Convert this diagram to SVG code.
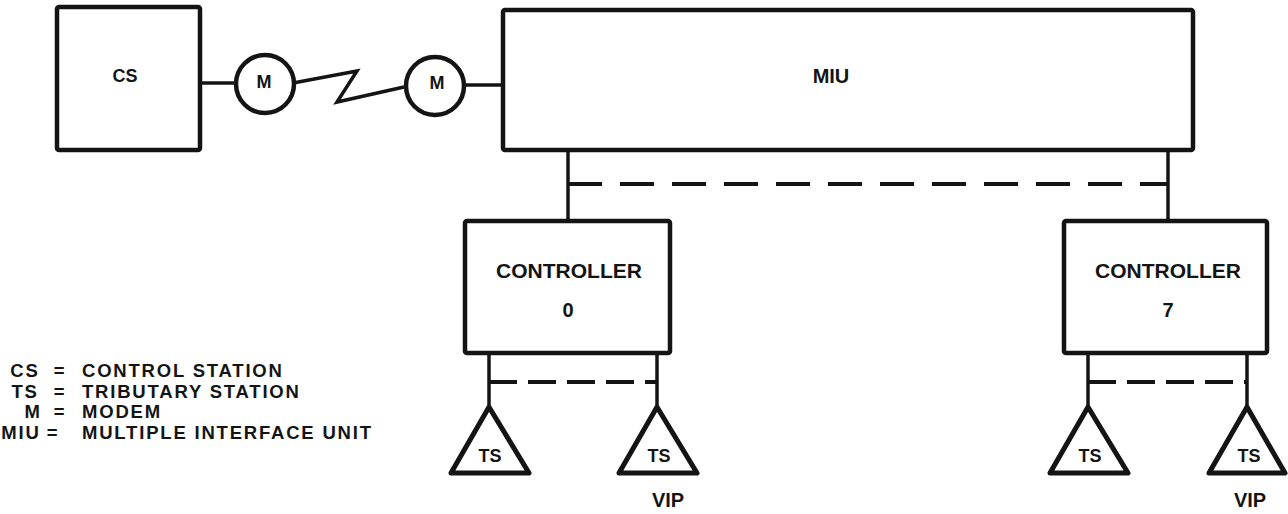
<svg xmlns="http://www.w3.org/2000/svg" width="1288" height="514" viewBox="0 0 1288 514">
<style>
  .box{fill:none;stroke:#141414;stroke-width:4.5;stroke-linejoin:round}
  .tri{fill:none;stroke:#141414;stroke-width:5;stroke-linejoin:round}
  .ln{fill:none;stroke:#141414;stroke-width:3.5}
  .dash{fill:none;stroke:#141414;stroke-width:4;stroke-dasharray:34 18}
  .dash2{fill:none;stroke:#141414;stroke-width:4;stroke-dasharray:28 11}
  text{font-family:"Liberation Sans",Arial,sans-serif;font-weight:bold;fill:#141414}
  .lbl{font-size:20px;text-anchor:middle}
  .ts{font-size:18px;text-anchor:middle}
  .leg{font-size:18.5px;letter-spacing:1.8px}
</style>
<rect width="1288" height="514" fill="#ffffff"/>
<g id="connectors">
  <line class="ln" x1="200" y1="83" x2="236" y2="83"/>
  <polyline class="ln" points="293,83 357,71 337,102 404,87"/>
  <line class="ln" x1="465" y1="85" x2="503" y2="85"/>
  <line class="ln" x1="568" y1="150" x2="568" y2="221"/>
  <line class="ln" x1="1168" y1="150" x2="1168" y2="221"/>
  <line class="dash" x1="568" y1="184" x2="1168" y2="184"/>
  <line class="ln" x1="489" y1="353" x2="489" y2="407"/>
  <line class="ln" x1="657" y1="353" x2="657" y2="407"/>
  <line class="dash2" x1="489" y1="382" x2="657" y2="382"/>
  <line class="ln" x1="1088" y1="353" x2="1088" y2="407"/>
  <line class="ln" x1="1247" y1="353" x2="1247" y2="407"/>
  <line class="dash2" x1="1088" y1="382" x2="1247" y2="382"/>
</g>
<g id="cs">
  <rect class="box" x="57" y="7" width="143" height="143" rx="2"/>
  <text class="lbl" x="125" y="82" style="font-size:18px">CS</text>
</g>
<g id="modem1">
  <circle class="box" cx="265" cy="84" r="29"/>
  <text class="lbl" x="264" y="88" style="font-size:18px">M</text>
</g>
<g id="modem2">
  <circle class="box" cx="435" cy="86" r="29"/>
  <text class="lbl" x="437" y="89" style="font-size:18px">M</text>
</g>
<g id="miu">
  <rect class="box" x="503" y="10" width="690" height="140" rx="2"/>
  <text class="lbl" x="831" y="83">MIU</text>
</g>
<g id="controller0">
  <rect class="box" x="465" y="221" width="205" height="132" rx="2"/>
  <text class="lbl" x="569" y="278" style="font-size:21px">CONTROLLER</text>
  <text class="lbl" x="568" y="317">0</text>
</g>
<g id="controller7">
  <rect class="box" x="1064" y="221" width="203" height="132" rx="2"/>
  <text class="lbl" x="1168" y="278" style="font-size:21px">CONTROLLER</text>
  <text class="lbl" x="1168" y="317">7</text>
</g>
<g id="ts0a">
  <polygon class="tri" points="489,407 529,473 451,473"/>
  <text class="ts" x="490" y="462">TS</text>
</g>
<g id="ts0b">
  <polygon class="tri" points="657,407 697,473 619,473"/>
  <text class="ts" x="659" y="462">TS</text>
  <text class="lbl" x="668" y="507">VIP</text>
</g>
<g id="ts7a">
  <polygon class="tri" points="1088,407 1128,473 1050,473"/>
  <text class="ts" x="1090" y="462">TS</text>
</g>
<g id="ts7b">
  <polygon class="tri" points="1247,407 1285,473 1209,473"/>
  <text class="ts" x="1249" y="462">TS</text>
  <text class="lbl" x="1250" y="507">VIP</text>
</g>
<g id="legend" class="leg">
  <text x="25" y="377" text-anchor="middle">CS</text><text x="60" y="377" text-anchor="middle">=</text><text x="82" y="377">CONTROL STATION</text>
  <text x="25" y="398" text-anchor="middle">TS</text><text x="60" y="398" text-anchor="middle">=</text><text x="82" y="398">TRIBUTARY STATION</text>
  <text x="33" y="418" text-anchor="middle">M</text><text x="60" y="418" text-anchor="middle">=</text><text x="82" y="418">MODEM</text>
  <text x="21" y="439" text-anchor="middle">MIU</text><text x="53" y="439" text-anchor="middle">=</text><text x="82" y="439">MULTIPLE INTERFACE UNIT</text>
</g>
</svg>
